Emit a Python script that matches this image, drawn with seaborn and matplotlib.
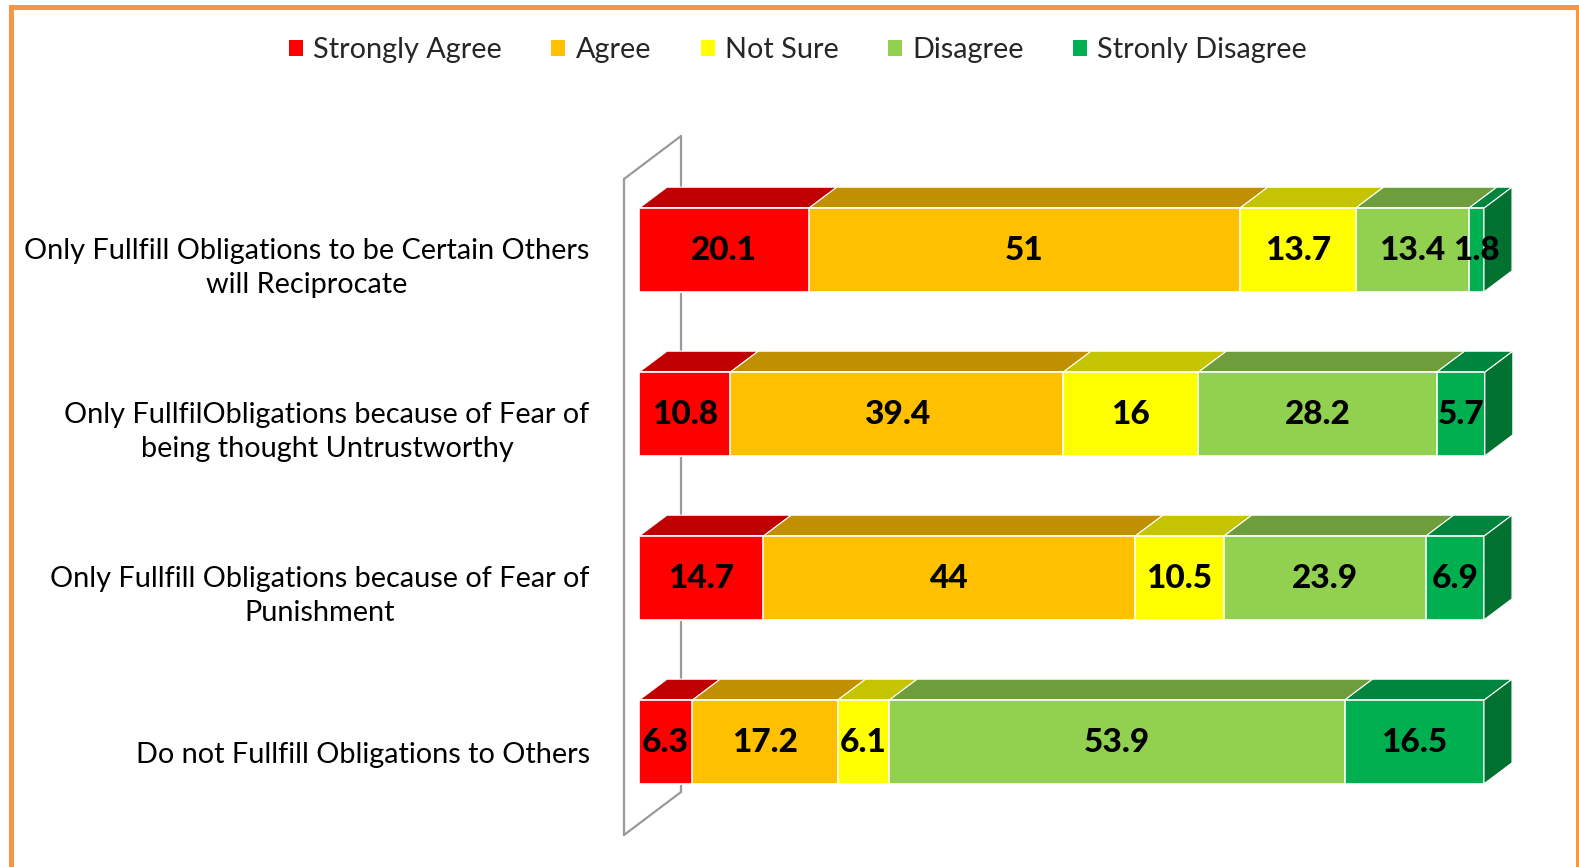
import matplotlib
matplotlib.use("Agg")
import matplotlib.pyplot as plt
from matplotlib.patches import Polygon, Patch, Rectangle
from matplotlib.transforms import ScaledTranslation
import pandas as pd
import seaborn as sns

# survey statements, top to bottom
statements = [
    "Only Fullfill Obligations to be Certain Others\nwill Reciprocate",
    "Only FullfilObligations because of Fear of\nbeing thought Untrustworthy",
    "Only Fullfill Obligations because of Fear of\nPunishment",
    "Do not Fullfill Obligations to Others",
]
responses = ["Strongly Agree", "Agree", "Not Sure", "Disagree", "Stronly Disagree"]

strongly_agree = [20.1, 10.8, 14.7, 6.3]
agree = [51, 39.4, 44, 17.2]
not_sure = [13.7, 16, 10.5, 6.1]
disagree = [13.4, 28.2, 23.9, 53.9]
strongly_disagree = [1.8, 5.7, 6.9, 16.5]

front_colours = ["#FF0000", "#FFC000", "#FFFF00", "#92D050", "#00B050"]
top_colours = ["#C00000", "#C09000", "#C4C400", "#6E9E3C", "#00853E"]
side_colour = "#00712F"
wall_colour = "#9A9A9A"
border_colour = "#F79646"

W, H = 1579, 867
BAR_H = 0.51


def build_frame():
    series = [strongly_agree, agree, not_sure, disagree, strongly_disagree]
    rows = []
    for i, stmt in enumerate(statements):
        left = 0.0
        for name, vals in zip(responses, series):
            rows.append((stmt, i, name, vals[i], left, left + vals[i]))
            left += vals[i]
    return pd.DataFrame(rows, columns=["statement", "pos", "response", "value", "start", "end"])


def px_to_data(ax, dx_px, dy_px):
    # pixel offset (y up) -> data offset
    o = ax.transData.transform((0, 0))
    p = ax.transData.inverted().transform((o[0] + dx_px, o[1] + dy_px))
    return p[0], p[1]


def main():
    df = build_frame()

    sns.set_style("white")
    plt.rcParams["font.family"] = ["Lato", "DejaVu Sans"]

    fig = plt.figure(figsize=(W / 100, H / 100), dpi=100)
    fig.patch.set_facecolor("white")
    ax = fig.add_axes([639 / W, (H - 824) / H, 845 / W, 656 / H])
    ax.set_facecolor("none")

    # front faces: cumulative bars, drawn from the longest down
    for name, colour in reversed(list(zip(responses, front_colours))):
        sub = df[df["response"] == name]
        sns.barplot(
            data=sub, x="end", y="statement", order=statements, orient="h",
            color=colour, saturation=1, width=BAR_H, errorbar=None,
            edgecolor="white", linewidth=1.2, ax=ax, zorder=3,
        )

    ax.set_xlim(0, 100)
    ax.set_ylim(3.5, -0.5)

    ddx, ddy = px_to_data(ax, 28, 21)

    # top faces + right side of the last block
    for i, stmt in enumerate(statements):
        rows = df[df["statement"] == stmt].reset_index(drop=True)
        top = i - BAR_H / 2
        bottom = i + BAR_H / 2
        for k, r in rows.iterrows():
            poly = [(r.start, top), (r.end, top), (r.end + ddx, top + ddy), (r.start + ddx, top + ddy)]
            ax.add_patch(Polygon(poly, closed=True, fc=top_colours[k], ec="white",
                                 lw=0.8, zorder=2, clip_on=False))
        last = rows.iloc[-1]
        side = [(last.end, top), (last.end, bottom), (last.end + ddx, bottom + ddy), (last.end + ddx, top + ddy)]
        ax.add_patch(Polygon(side, closed=True, fc=side_colour, ec="white",
                             lw=0.8, zorder=2.5, clip_on=False))

        for _, r in rows.iterrows():
            ax.text((r.start + r.end) / 2, i, f"{r.value:g}", ha="center", va="center",
                    fontsize=24, fontweight=900, color="black", zorder=5)

    # side wall of the 3d box
    fx, fy = px_to_data(ax, -15, -11)
    bx, by = px_to_data(ax, 42, 32)
    y0, y1 = -0.5, 3.5
    wall_kw = dict(color=wall_colour, lw=1.6, clip_on=False, zorder=1, solid_capstyle="round")
    ax.plot([fx, fx], [y0 + fy, y1 + fy], **wall_kw)
    ax.plot([bx, bx], [y0 + by, y1 + by], **wall_kw)
    ax.plot([fx, bx], [y0 + fy, y0 + by], **wall_kw)
    ax.plot([fx, bx], [y1 + fy, y1 + by], **wall_kw)

    # axes cosmetics
    sns.despine(ax=ax, left=True, bottom=True)
    ax.set_xticks([])
    ax.set_xlabel("")
    ax.set_ylabel("")
    ax.set_yticks(range(len(statements)))
    ax.set_yticklabels(statements, fontsize=20.8, multialignment="center",
                       linespacing=1.4, color="black")
    ax.tick_params(axis="y", length=0, pad=35.5)
    shift = ScaledTranslation(0, -11 / 100, fig.dpi_scale_trans)
    for label in ax.get_yticklabels():
        label.set_transform(label.get_transform() + shift)

    handles = [Patch(facecolor=c, edgecolor="none") for c in front_colours]
    fig.legend(
        handles, responses, loc="center", bbox_to_anchor=(798 / W, 1 - 50 / H),
        ncol=5, frameon=False, fontsize=20.8, handlelength=0.48, handleheight=0.48,
        handletextpad=0.35, columnspacing=1.72,
    )

    # orange outline round the chart area
    fig.patches.append(Rectangle((10.5 / W, -0.02), (1578 - 10.5) / W, 1.02 - 6.5 / H,
                                 transform=fig.transFigure, fill=False,
                                 ec=border_colour, lw=3.6, zorder=10))

    fig.savefig("out.png", dpi=100)


if __name__ == "__main__":
    main()
